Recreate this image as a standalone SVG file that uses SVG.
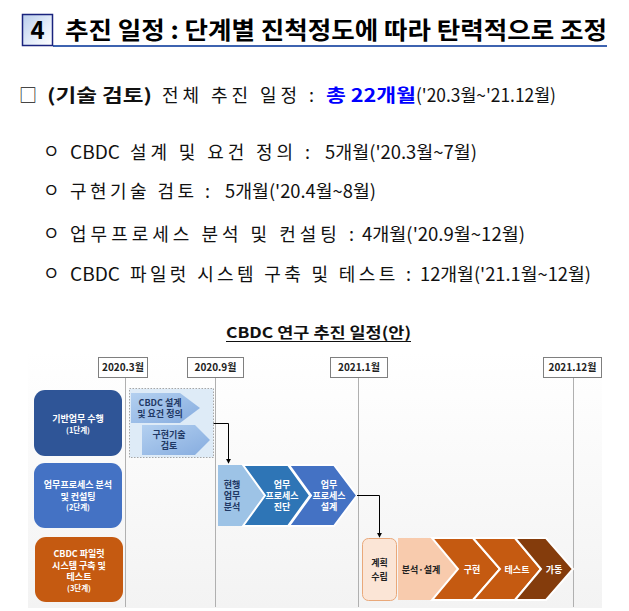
<svg xmlns="http://www.w3.org/2000/svg" width="629" height="611" viewBox="0 0 629 611">
<defs>
  <linearGradient id="hdrBox" x1="0" y1="0" x2="1" y2="1">
    <stop offset="0" stop-color="#b9cdec"/>
    <stop offset="0.6" stop-color="#e6eefa"/>
    <stop offset="1" stop-color="#ffffff"/>
  </linearGradient>
  <linearGradient id="chartBg" x1="0" y1="0" x2="0" y2="1">
    <stop offset="0" stop-color="#ffffff"/>
    <stop offset="1" stop-color="#f3f3f3"/>
  </linearGradient>
  <linearGradient id="chev1" x1="0" y1="0" x2="1" y2="1">
    <stop offset="0" stop-color="#b3d0f0"/>
    <stop offset="1" stop-color="#86acdf"/>
  </linearGradient>
  <marker id="arr" viewBox="0 0 6 6" refX="5" refY="3" markerWidth="5" markerHeight="5" orient="auto">
    <path d="M0,0 L6,3 L0,6 z" fill="#000"/>
  </marker>
</defs>
<style>
  .kr { font-family: "Noto Sans CJK KR", "Noto Sans", sans-serif; }
  .hdr { font-size: 24px; font-weight: bold; fill: #000; }
  .body { font-size: 18px; fill: #111; }
  .b { font-weight: bold; }
  .date { font-size: 10px; font-weight: bold; fill: #222; text-anchor: middle; }
  .dbox { fill: #fff; stroke: #7f7f7f; stroke-width: 1; }
  .vline { stroke: #b0b0b0; stroke-width: 1; }
  .stg { font-size: 9px; font-weight: bold; fill: #fff; text-anchor: middle; }
  .stgs { font-size: 7.5px; font-weight: bold; fill: #fff; text-anchor: middle; }
  .ct { font-size: 9px; font-weight: bold; text-anchor: middle; dominant-baseline: central; }
  .dk { fill: #1f3864; }
  .wt { fill: #fff; }
  .chev { stroke: #fff; stroke-width: 2; stroke-linejoin: miter; }
  .conn { fill: none; stroke: #000; stroke-width: 1; }
</style>

<!-- Header -->
<g id="header">
  <line x1="53" y1="46" x2="607" y2="46" stroke="#3d63b0" stroke-width="2"/>
  <rect x="22.5" y="14.5" width="30" height="31" fill="url(#hdrBox)" stroke="#1a237e" stroke-width="1.5"/>
  <text class="kr hdr" x="37.5" y="39" text-anchor="middle" font-size="22">4</text>
  <text class="kr hdr" x="65" y="39" textLength="542" lengthAdjust="spacingAndGlyphs">추진 일정 : 단계별 진척정도에 따라 탄력적으로 조정</text>
</g>

<!-- Summary line -->
<g id="summary">
  <text class="kr body" x="19" y="102" font-size="19">□</text>
  <text class="kr body b" x="47" y="102" font-size="19" textLength="105" lengthAdjust="spacingAndGlyphs">(기술 검토)</text>
  <text class="kr body" x="162" y="102" textLength="152" lengthAdjust="spacing">전체 추진 일정 :</text>
  <text class="kr body b" x="326" y="102" font-size="19" style="fill:#0000ff" textLength="90" lengthAdjust="spacingAndGlyphs">총 22개월</text>
  <text class="kr body" x="416" y="102" textLength="140" lengthAdjust="spacingAndGlyphs">('20.3월~'21.12월)</text>
</g>

<!-- Bullets -->
<g id="bullets">
  <text class="kr body" x="43" y="158" font-size="14">ㅇ</text>
  <text class="kr body" x="70" y="159" textLength="50" lengthAdjust="spacingAndGlyphs">CBDC</text>
  <text class="kr body" x="130" y="159" textLength="180" lengthAdjust="spacing">설계 및 요건 정의 :</text>
  <text class="kr body" x="325" y="159" textLength="152" lengthAdjust="spacingAndGlyphs">5개월('20.3월~7월)</text>

  <text class="kr body" x="43" y="197" font-size="14">ㅇ</text>
  <text class="kr body" x="70" y="198" textLength="140" lengthAdjust="spacing">구현기술 검토 :</text>
  <text class="kr body" x="225" y="198" textLength="151" lengthAdjust="spacingAndGlyphs">5개월('20.4월~8월)</text>

  <text class="kr body" x="43" y="240" font-size="14">ㅇ</text>
  <text class="kr body" x="70" y="241" textLength="284" lengthAdjust="spacing">업무프로세스 분석 및 컨설팅 :</text>
  <text class="kr body" x="362" y="241" textLength="163" lengthAdjust="spacingAndGlyphs">4개월('20.9월~12월)</text>

  <text class="kr body" x="43" y="280" font-size="14">ㅇ</text>
  <text class="kr body" x="70" y="281" textLength="50" lengthAdjust="spacingAndGlyphs">CBDC</text>
  <text class="kr body" x="130" y="281" textLength="281" lengthAdjust="spacing">파일럿 시스템 구축 및 테스트 :</text>
  <text class="kr body" x="420" y="281" textLength="171" lengthAdjust="spacingAndGlyphs">12개월('21.1월~12월)</text>
</g>

<!-- Chart title -->
<g id="chart-title">
  <text class="kr b" x="318.5" y="338" font-size="15" text-anchor="middle" fill="#111" textLength="185" lengthAdjust="spacingAndGlyphs">CBDC 연구 추진 일정(안)</text>
  <line x1="226" y1="341.5" x2="411" y2="341.5" stroke="#111" stroke-width="1.2"/>
</g>

<!-- Chart background -->
<rect x="28" y="352" width="574" height="256" fill="url(#chartBg)"/>

<!-- Timeline -->
<g id="timeline">
  <line class="vline" x1="125.5" y1="377" x2="125.5" y2="607"/>
  <line class="vline" x1="215.5" y1="377" x2="215.5" y2="607"/>
  <line class="vline" x1="358.5" y1="377" x2="358.5" y2="607"/>
  <line class="vline" x1="573.5" y1="377" x2="573.5" y2="607"/>
  <g id="d2020-3"><rect class="dbox" x="98.5" y="357.5" width="49" height="20"/><text class="kr date" x="123" y="371">2020.3월</text></g>
  <g id="d2020-9"><rect class="dbox" x="187.5" y="357.5" width="56" height="20"/><text class="kr date" x="215.5" y="371">2020.9월</text></g>
  <g id="d2021-1"><rect class="dbox" x="330.5" y="357.5" width="57" height="20"/><text class="kr date" x="359" y="371">2021.1월</text></g>
  <g id="d2021-12"><rect class="dbox" x="543.5" y="357.5" width="58" height="20"/><text class="kr date" x="572.5" y="371">2021.12월</text></g>
</g>

<!-- Stage blocks -->
<g id="stage1">
  <rect x="34" y="390" width="88" height="66" rx="11" fill="#2f5597"/>
  <text class="kr stg" x="78" y="421.5">기반업무 수행</text>
  <text class="kr stgs" x="78" y="432.5">(1단계)</text>
</g>
<g id="stage2">
  <rect x="34" y="463" width="88" height="65" rx="11" fill="#4472c4"/>
  <text class="kr stg" x="78" y="488">업무프로세스 분석</text>
  <text class="kr stg" x="78" y="499.5">및 컨설팅</text>
  <text class="kr stgs" x="78" y="510">(2단계)</text>
</g>
<g id="stage3">
  <rect x="35" y="537" width="88" height="65" rx="11" fill="#c55a11"/>
  <text class="kr stg" x="79" y="557">CBDC 파일럿</text>
  <text class="kr stg" x="79" y="568.5">시스템 구축 및</text>
  <text class="kr stg" x="79" y="580">테스트</text>
  <text class="kr stgs" x="79" y="590.5">(3단계)</text>
</g>

<!-- Phase 1 group -->
<g id="phase1">
  <rect x="129.5" y="388.5" width="84" height="69" fill="#deebf7" stroke="#a6a6a6" stroke-width="1" stroke-dasharray="1.5,1.5"/>
  <g id="p1-design">
    <polygon points="131,393 180,393 200,408 180,423 131,423" fill="url(#chev1)"/>
    <text class="kr ct dk" x="160" y="402.5" font-size="8.5">CBDC 설계</text>
    <text class="kr ct dk" x="160" y="413.5" font-size="8.5">및 요건 정의</text>
  </g>
  <g id="p1-review">
    <polygon points="142,425 195,425 210,440 195,455 142,455" fill="url(#chev1)"/>
    <text class="kr ct dk" x="169" y="434.5" font-size="8.5">구현기술</text>
    <text class="kr ct dk" x="169" y="445.5" font-size="8.5">검토</text>
  </g>
</g>

<!-- Phase 2 -->
<g id="phase2">
  <g id="p2-current">
    <polygon points="218,465 243,465 265,495.5 243,526 218,526" fill="#9dc3e6"/>
    <text class="kr ct dk" x="232" y="484.5">현행</text>
    <text class="kr ct dk" x="232" y="495.5">업무</text>
    <text class="kr ct dk" x="232" y="506.5">분석</text>
  </g>
  <g id="p2-diag">
    <polygon class="chev" points="243,465 288,465 310,495.5 288,526 243,526 265,495.5" fill="#2e75b6"/>
    <text class="kr ct wt" x="282" y="484.5">업무</text>
    <text class="kr ct wt" x="282" y="495.5">프로세스</text>
    <text class="kr ct wt" x="282" y="506.5">진단</text>
  </g>
  <g id="p2-design">
    <polygon class="chev" points="289,465 334,465 357,495.5 334,526 289,526 311,495.5" fill="#4472c4"/>
    <text class="kr ct wt" x="329" y="484.5">업무</text>
    <text class="kr ct wt" x="329" y="495.5">프로세스</text>
    <text class="kr ct wt" x="329" y="506.5">설계</text>
  </g>
</g>

<!-- Phase 3 -->
<g id="phase3">
  <g id="p3-plan">
    <rect x="362.5" y="538.5" width="34" height="62" rx="6" fill="#fbe5d6" stroke="#e9a87a" stroke-width="1"/>
    <text class="kr ct" x="379.5" y="562" font-size="11" fill="#222">계획</text>
    <text class="kr ct" x="379.5" y="576" font-size="11" fill="#222">수립</text>
  </g>
  <g id="p3-analysis">
    <polygon points="398,538 432,538 458,569 432,600 398,600" fill="#f8cbad"/>
    <text class="kr ct" x="421" y="569" font-size="9.5" fill="#222">분석·설계</text>
  </g>
  <g id="p3-impl">
    <polygon class="chev" points="432,538 473,538 500,569 473,600 432,600 458,569" fill="#c55a11"/>
    <text class="kr ct wt" x="472" y="569" font-size="9.5">구현</text>
  </g>
  <g id="p3-test">
    <polygon class="chev" points="473,538 515,538 541,569 515,600 473,600 500,569" fill="#c55a11"/>
    <text class="kr ct wt" x="517" y="569" font-size="9.5">테스트</text>
  </g>
  <g id="p3-run">
    <polygon class="chev" points="515,538 546,538 573,569 546,600 515,600 541,569" fill="#843c0c"/>
    <text class="kr ct wt" x="554" y="569" font-size="9.5">가동</text>
  </g>
</g>

<!-- Connectors -->
<g id="connectors">
  <polyline class="conn" points="213.5,423.5 228.5,423.5 228.5,463" marker-end="url(#arr)"/>
  <polyline class="conn" points="357,495.5 379.5,495.5 379.5,537" marker-end="url(#arr)"/>
</g>
</svg>
